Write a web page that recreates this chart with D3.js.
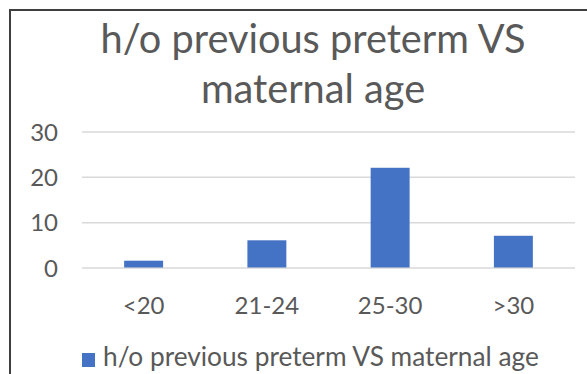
<!DOCTYPE html>
<html>
<head>
<meta charset="utf-8">
<script src="https://cdn.jsdelivr.net/npm/d3@7"></script>
<style>
  html, body { margin: 0; padding: 0; background: #fff; }
  svg { display: block; }
  text { font-family: Lato, "Open Sans", "Liberation Sans", sans-serif; fill: #595959; }
</style>
</head>
<body>
<svg id="chart" width="587" height="374"></svg>
<script>
// Data
const categories = ["<20", "21-24", "25-30", ">30"];
const values = [1.5, 6, 22, 7];
const yTicks = [0, 10, 20, 30];
const titleLines = ["h/o previous preterm VS", "maternal age"];
const seriesName = "h/o previous preterm VS maternal age";

const svg = d3.select("#chart");

// Chart frame (runs past the right and bottom edges)
svg.append("rect")
  .attr("x", 10).attr("y", 10)
  .attr("width", 620).attr("height", 420)
  .attr("fill", "#fff")
  .attr("stroke", "#3f3f3f")
  .attr("stroke-width", 2);

const plot = { left: 82, right: 575, top: 131.5, bottom: 267.5 };
const centerX = 313;

const x = d3.scaleBand()
  .domain(categories)
  .range([plot.left, plot.right])
  .paddingInner(0.684)
  .paddingOuter(0.342);

const y = d3.scaleLinear()
  .domain([0, 30])
  .range([plot.bottom, plot.top]);

// Gridlines
const grid = svg.append("g")
  .attr("transform", `translate(${plot.left},0)`)
  .call(d3.axisLeft(y).tickValues(yTicks).tickSize(-(plot.right - plot.left)).tickFormat(""));
grid.select(".domain").remove();
grid.selectAll("line").attr("stroke", "#d9d9d9").attr("stroke-width", 1.5);

// Y tick labels
const yAxis = svg.append("g")
  .attr("transform", "translate(58,0)")
  .call(d3.axisLeft(y).tickValues(yTicks).tickSize(0).tickPadding(0));
yAxis.select(".domain").remove();
yAxis.selectAll("text")
  .attr("font-size", 24)
  .attr("dy", "0.36em")
  .style("font-family", "Lato, 'Open Sans', sans-serif")
  .attr("fill", "#595959");

// Bars
svg.append("g").selectAll("rect")
  .data(values)
  .join("rect")
  .attr("x", (d, i) => x(categories[i]))
  .attr("y", d => y(d))
  .attr("width", x.bandwidth())
  .attr("height", d => y(0) - y(d))
  .attr("fill", "#4472c4");

// X category labels
const xAxis = svg.append("g")
  .attr("transform", `translate(0,${plot.bottom})`)
  .call(d3.axisBottom(x).tickSize(0).tickPadding(0));
xAxis.select(".domain").remove();
xAxis.selectAll("text")
  .attr("y", 46)
  .attr("dy", 0)
  .attr("font-size", 24)
  .style("font-family", "Lato, 'Open Sans', sans-serif")
  .attr("fill", "#595959");

// Fit a text element's width to a target by adjusting font size
function fitWidth(sel, target) {
  const fs = parseFloat(sel.attr("font-size"));
  const w = sel.node().getComputedTextLength();
  sel.attr("font-size", (fs * target / w).toFixed(2));
}

// Title
const t1 = svg.append("text")
  .attr("x", centerX).attr("y", 53)
  .attr("text-anchor", "middle")
  .attr("font-size", 38)
  .text(titleLines[0]);
fitWidth(t1, 425);
svg.append("text")
  .attr("x", centerX).attr("y", 103)
  .attr("text-anchor", "middle")
  .attr("font-size", parseFloat(t1.attr("font-size")))
  .text(titleLines[1]);

// Legend
const legend = svg.append("g");
legend.append("rect")
  .attr("x", 82).attr("y", 353)
  .attr("width", 13).attr("height", 14)
  .attr("fill", "#4472c4");
const lt = legend.append("text")
  .attr("x", 103).attr("y", 366)
  .attr("font-size", 24)
  .text(seriesName);
fitWidth(lt, 436);
</script>
</body>
</html>
